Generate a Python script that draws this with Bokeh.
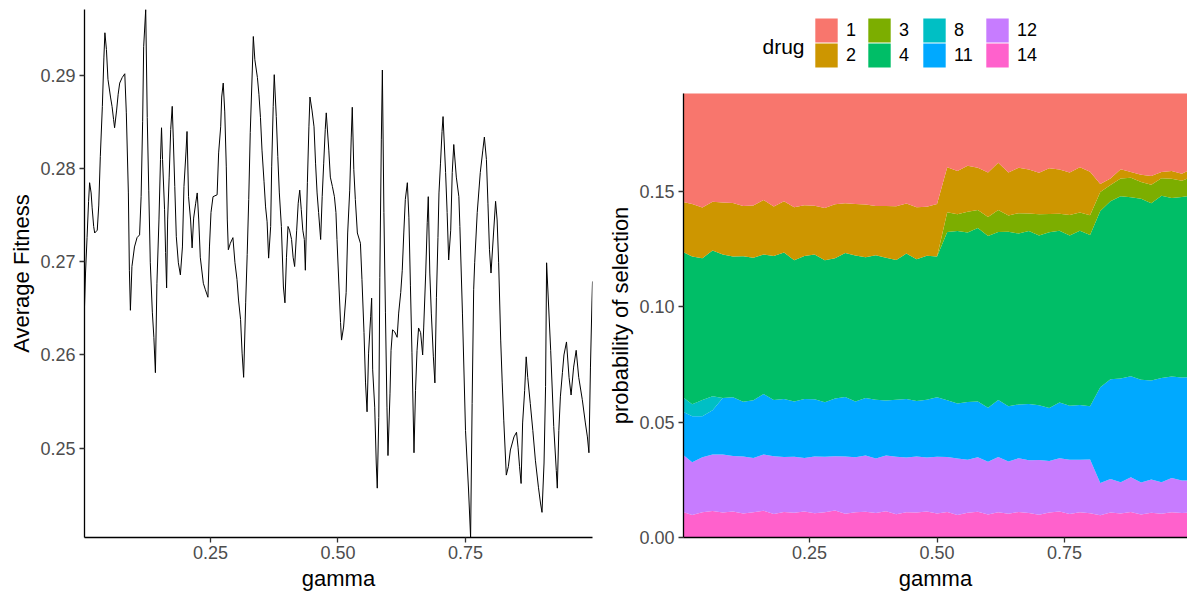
from bokeh.plotting import figure
from bokeh.models import (Range1d, FixedTicker, NumeralTickFormatter, ColumnDataSource,
                          Legend, LegendItem, Label)
from bokeh.embed import file_html
from bokeh.resources import INLINE

FONT = "Liberation Sans"

# ---------------- left panel: average fitness vs gamma ----------------
gamma_fit = [
    0.003,0.005,0.008,0.011,0.013,0.016,0.018,0.021,0.023,0.028,
    0.031,0.034,0.038,0.041,0.043,0.046,0.049,0.054,0.057,0.060,
    0.062,0.066,0.069,0.072,0.077,0.082,0.085,0.089,0.091,0.093,
    0.096,0.101,0.106,0.111,0.114,0.117,0.119,0.123,0.126,0.129,
    0.132,0.136,0.139,0.142,0.145,0.149,0.152,0.154,0.156,0.160,
    0.162,0.164,0.166,0.169,0.172,0.175,0.177,0.180,0.183,0.187,
    0.191,0.195,0.198,0.202,0.204,0.207,0.211,0.214,0.217,0.221,
    0.224,0.227,0.230,0.236,0.240,0.245,0.248,0.251,0.255,0.263,
    0.266,0.270,0.272,0.275,0.278,0.281,0.283,0.285,0.289,0.294,
    0.298,0.302,0.305,0.309,0.312,0.315,0.319,0.322,0.325,0.328,
    0.332,0.334,0.337,0.342,0.345,0.348,0.351,0.355,0.358,0.361,
    0.364,0.368,0.370,0.373,0.375,0.379,0.382,0.385,0.389,0.393,
    0.396,0.399,0.402,0.405,0.409,0.412,0.415,0.419,0.422,0.425,
    0.428,0.431,0.434,0.436,0.440,0.443,0.445,0.449,0.453,0.456,
    0.459,0.462,0.466,0.469,0.472,0.475,0.477,0.482,0.485,0.489,
    0.493,0.496,0.498,0.502,0.505,0.507,0.511,0.516,0.519,0.523,
    0.526,0.528,0.531,0.534,0.538,0.544,0.547,0.551,0.554,0.557,
    0.560,0.564,0.566,0.568,0.572,0.575,0.577,0.580,0.582,0.585,
    0.587,0.590,0.593,0.596,0.598,0.602,0.604,0.607,0.611,0.616,
    0.619,0.623,0.626,0.629,0.632,0.636,0.639,0.642,0.645,0.649,
    0.652,0.655,0.658,0.662,0.666,0.668,0.672,0.675,0.677,0.680,
    0.683,0.687,0.690,0.693,0.696,0.698,0.701,0.704,0.706,0.711,
    0.714,0.717,0.721,0.724,0.727,0.732,0.737,0.739,0.744,0.750,
    0.756,0.760,0.763,0.766,0.768,0.773,0.779,0.784,0.787,0.791,
    0.794,0.797,0.800,0.805,0.809,0.812,0.815,0.819,0.822,0.825,
    0.830,0.834,0.838,0.845,0.850,0.853,0.856,0.859,0.862,0.866,
    0.869,0.872,0.877,0.882,0.887,0.893,0.897,0.900,0.904,0.907,
    0.909,0.917,0.923,0.928,0.930,0.933,0.936,0.940,0.943,0.948,
    0.953,0.957,0.962,0.967,0.972,0.979,0.985,0.989,0.992,0.995,
    0.998,0.999,
]
fitness = [
    0.2652,0.2688,0.2726,0.2765,0.2785,0.2774,0.2758,0.2738,0.2731,0.2734,
    0.2761,0.2813,0.2867,0.2919,0.2946,0.2928,0.2896,0.2877,0.2867,0.2853,
    0.2844,0.2863,0.2880,0.2892,0.2898,0.2902,0.2860,0.2774,0.2691,0.2648,
    0.2695,0.2716,0.2726,0.2729,0.2770,0.2851,0.2931,0.2971,0.2855,0.2777,
    0.2699,0.2646,0.2619,0.2581,0.2677,0.2745,0.2810,0.2844,0.2810,0.2756,
    0.2710,0.2672,0.2745,0.2791,0.2842,0.2867,0.2834,0.2781,0.2727,0.2699,
    0.2686,0.2716,0.2781,0.2818,0.2840,0.2770,0.2745,0.2715,0.2747,0.2763,
    0.2774,0.2745,0.2705,0.2677,0.2670,0.2662,0.2716,0.2753,0.2770,0.2772,
    0.2817,0.2845,0.2877,0.2892,0.2861,0.2802,0.2745,0.2713,0.2720,0.2726,
    0.2699,0.2681,0.2659,0.2638,0.2602,0.2576,0.2656,0.2708,0.2767,0.2839,
    0.2906,0.2942,0.2917,0.2898,0.2880,0.2855,0.2820,0.2786,0.2759,0.2743,
    0.2704,0.2738,0.2802,0.2867,0.2901,0.2856,0.2813,0.2774,0.2738,0.2673,
    0.2656,0.2705,0.2738,0.2734,0.2724,0.2705,0.2695,0.2734,0.2763,0.2777,
    0.2756,0.2734,0.2724,0.2691,0.2785,0.2845,0.2877,0.2863,0.2845,0.2806,
    0.2774,0.2753,0.2724,0.2770,0.2806,0.2842,0.2860,0.2820,0.2791,0.2781,
    0.2770,0.2753,0.2724,0.2673,0.2635,0.2616,0.2630,0.2667,0.2731,0.2777,
    0.2834,0.2866,0.2799,0.2767,0.2731,0.2720,0.2681,0.2624,0.2570,0.2539,
    0.2602,0.2641,0.2661,0.2584,0.2544,0.2484,0.2457,0.2533,0.2683,0.2831,
    0.2906,0.2753,0.2646,0.2544,0.2492,0.2559,0.2605,0.2627,0.2625,0.2619,
    0.2645,0.2667,0.2691,0.2731,0.2767,0.2785,0.2748,0.2675,0.2603,0.2495,
    0.2562,0.2605,0.2629,0.2624,0.2600,0.2629,0.2688,0.2742,0.2770,0.2688,
    0.2645,0.2598,0.2570,0.2662,0.2726,0.2774,0.2806,0.2840,0.2856,0.2796,
    0.2753,0.2702,0.2734,0.2796,0.2826,0.2791,0.2770,0.2738,0.2645,0.2519,
    0.2455,0.2404,0.2548,0.2670,0.2699,0.2753,0.2796,0.2820,0.2834,0.2810,
    0.2763,0.2713,0.2688,0.2731,0.2765,0.2745,0.2699,0.2616,0.2570,0.2530,
    0.2471,0.2480,0.2498,0.2512,0.2517,0.2501,0.2480,0.2462,0.2527,0.2562,
    0.2598,0.2576,0.2548,0.2519,0.2487,0.2458,0.2441,0.2431,0.2484,0.2566,
    0.2699,0.2605,0.2523,0.2476,0.2457,0.2519,0.2555,0.2581,0.2600,0.2614,
    0.2576,0.2557,0.2587,0.2605,0.2576,0.2552,0.2527,0.2512,0.2495,0.2587,
    0.2659,0.2679,
]
fit_ticks = [0.25, 0.26, 0.27, 0.28, 0.29]
gamma_ticks = [0.25, 0.50, 0.75]

# ---------------- right panel: probability of selection by drug ----------------
gamma_sel = [0.00,0.02,0.04,0.06,0.08,0.10,0.12,0.14,0.16,0.18,
             0.20,0.22,0.24,0.26,0.28,0.30,0.32,0.34,0.36,0.38,
             0.40,0.42,0.44,0.46,0.48,0.50,0.52,0.54,0.56,0.58,
             0.60,0.62,0.64,0.66,0.68,0.70,0.72,0.74,0.76,0.78,
             0.80,0.82,0.84,0.86,0.88,0.90,0.92,0.94,0.96,0.98,1.00]
drug14 = [0.0112,0.0098,0.0110,0.0115,0.0108,0.0113,0.0104,0.0109,0.0116,0.0102,
          0.0111,0.0107,0.0113,0.0105,0.0110,0.0117,0.0103,0.0109,0.0112,0.0106,
          0.0114,0.0101,0.0110,0.0108,0.0113,0.0104,0.0111,0.0098,0.0107,0.0112,
          0.0100,0.0109,0.0103,0.0111,0.0106,0.0099,0.0108,0.0113,0.0102,0.0110,
          0.0105,0.0096,0.0108,0.0104,0.0111,0.0100,0.0107,0.0103,0.0110,0.0106,0.0108]
drug12 = [0.0250,0.0228,0.0238,0.0245,0.0252,0.0240,0.0247,0.0236,0.0244,0.0250,
          0.0238,0.0243,0.0232,0.0246,0.0240,0.0235,0.0248,0.0239,0.0244,0.0236,
          0.0241,0.0249,0.0237,0.0243,0.0234,0.0246,
          0.0238,0.0245,0.0230,0.0236,0.0228,0.0240,0.0226,0.0233,0.0229,0.0237,
          0.0224,0.0231,0.0235,0.0227,0.0233,
          0.0140,0.0146,0.0135,0.0150,0.0138,0.0144,0.0136,0.0148,0.0141,0.0139]
drug11 = [0.0185,0.0200,0.0178,0.0192,
          0.0245,0.0255,0.0238,0.0250,0.0262,0.0244,0.0252,0.0240,0.0256,0.0248,
          0.0236,0.0251,0.0258,0.0242,0.0249,0.0255,0.0239,0.0247,0.0253,0.0241,
          0.0250,0.0258,
          0.0246,0.0238,0.0250,0.0242,0.0235,0.0247,0.0240,0.0233,0.0244,0.0237,
          0.0229,0.0241,0.0234,0.0238,0.0231,
          0.0415,0.0432,0.0450,0.0438,0.0446,0.0430,0.0452,0.0440,0.0447,0.0449]
drug8 = [0.0065,0.0052,0.0070,0.0060] + [0.0] * 47
drug4 = [0.0628,0.0640,0.0615,0.0632,0.0622,0.0610,0.0630,0.0618,0.0605,0.0625,
         0.0635,0.0612,0.0620,0.0628,0.0616,0.0608,0.0624,0.0633,0.0610,0.0627,
         0.0619,0.0606,0.0631,0.0614,0.0625,0.0610,
         0.0730,0.0748,0.0735,0.0752,0.0744,0.0729,0.0757,0.0741,0.0750,0.0736,
         0.0762,0.0745,0.0738,0.0755,0.0742,
         0.0765,0.0772,0.0790,0.0776,0.0785,0.0768,0.0791,0.0774,0.0782,0.0788]
drug3 = [0.0] * 26 + [0.0085,0.0072,0.0090,0.0078,0.0083,0.0095,0.0070,0.0088,0.0076,0.0092,
                      0.0080,0.0074,0.0089,0.0079,0.0086,
                      0.0082,0.0070,0.0078,0.0085,0.0072,0.0080,0.0076,0.0083,0.0071,0.0079]
drug2 = [0.0215,0.0228,0.0220,0.0212,0.0225,0.0232,0.0218,0.0226,0.0236,0.0214,
         0.0222,0.0230,0.0219,0.0211,0.0227,0.0234,0.0216,0.0223,0.0229,0.0213,
         0.0224,0.0233,0.0217,0.0226,0.0212,0.0228,
         0.0195,0.0188,0.0200,0.0183,0.0192,0.0205,0.0186,0.0197,0.0190,0.0180,
         0.0198,0.0191,0.0184,0.0196,0.0189,
         0.0035,0.0028,0.0040,0.0025,0.0032,0.0038,0.0027,0.0034,0.0030,0.0036]
drug1 = [0.0550,0.0555,0.0548,0.0552,0.0557,0.0549,0.0554,0.0551,0.0556,0.0548,
         0.0553,0.0550,0.0555,0.0552,0.0549,0.0554,0.0557,0.0550,0.0553,0.0548,
         0.0556,0.0551,0.0554,0.0549,0.0552,0.0555,
         0.0395,0.0392,0.0398,0.0390,0.0396,0.0393,0.0399,0.0391,0.0394,0.0397,
         0.0392,0.0395,0.0398,0.0390,0.0394,
         0.0425,0.0422,0.0428,0.0420,0.0426,0.0423,0.0429,0.0421,0.0424,0.0427]
total_prob = 0.1925
prob_ticks = [0.00, 0.05, 0.10, 0.15]
drug_labels = ["1", "2", "3", "4", "8", "11", "12", "14"]
drug_colors = ["#F8766D", "#CD9600", "#7CAE00", "#00BE67", "#00BFC4", "#00A9FF", "#C77CFF", "#FF61CC"]


def style(p, xticks, yticks):
    for ax in (p.xaxis[0], p.yaxis[0]):
        ax.axis_line_color = "black"
        ax.axis_line_width = 1.3
        ax.major_tick_line_color = "#333333"
        ax.major_tick_line_width = 1.3
        ax.major_tick_out = 5
        ax.major_tick_in = 0
        ax.minor_tick_line_color = None
        ax.major_label_text_font = FONT
        ax.major_label_text_font_size = "18px"
        ax.major_label_text_color = "#4D4D4D"
        ax.axis_label_text_font = FONT
        ax.axis_label_text_font_size = "22px"
        ax.axis_label_text_font_style = "normal"
        ax.axis_label_text_color = "black"
        ax.formatter = NumeralTickFormatter(format="0.00")
    p.xaxis[0].ticker = FixedTicker(ticks=xticks)
    p.yaxis[0].ticker = FixedTicker(ticks=yticks)
    p.xaxis[0].major_label_standoff = 3
    p.yaxis[0].major_label_standoff = 4
    p.xaxis[0].axis_label_standoff = 4
    p.yaxis[0].axis_label_standoff = 3
    p.xgrid.visible = False
    p.ygrid.visible = False
    p.outline_line_color = None


# left plot: page box x 0..600, y 0..599
p1 = figure(frame_width=508, frame_height=528,
            min_border_left=84, min_border_right=8, min_border_top=9, min_border_bottom=62,
            x_range=Range1d(min(gamma_fit), max(gamma_fit)),
            y_range=Range1d(min(fitness), max(fitness)),
            x_axis_label="gamma", y_axis_label="Average Fitness",
            output_backend="svg", toolbar_location=None)
p1.line(gamma_fit, fitness, line_color="black", line_width=1)
style(p1, gamma_ticks, fit_ticks)
p1.styles = {"position": "absolute", "left": "0px", "top": "0px"}

# right plot: page box x 600..1187, y 93..599
p2 = figure(frame_width=504, frame_height=444,
            min_border_left=83, min_border_right=0, min_border_top=0, min_border_bottom=62,
            x_range=Range1d(0.003, 0.991), y_range=Range1d(0, total_prob),
            x_axis_label="gamma", y_axis_label="probability of selection",
            output_backend="svg", toolbar_location=None)
src = ColumnDataSource(dict(gamma=gamma_sel, d1=drug1, d2=drug2, d3=drug3, d4=drug4,
                            d8=drug8, d11=drug11, d12=drug12, d14=drug14))
order = ["14", "12", "11", "8", "4", "3", "2", "1"]  # bottom to top
col_of = dict(zip(drug_labels, drug_colors))
p2.varea_stack(stackers=["d" + k for k in order], x="gamma",
               color=[col_of[k] for k in order], source=src)
style(p2, gamma_ticks, prob_ticks)
p2.styles = {"position": "absolute", "left": "600px", "top": "93px"}

# legend strip above the right plot: page box x 600..1187, y 0..93
pl = figure(frame_width=587, frame_height=93, min_border=0,
            min_border_left=0, min_border_right=0, min_border_top=0, min_border_bottom=0,
            x_range=Range1d(0, 1), y_range=Range1d(0, 1),
            x_axis_type=None, y_axis_type=None,
            output_backend="svg", toolbar_location=None)
pl.outline_line_color = None
# zero-area proxy glyphs, only used to draw the legend keys
proxy = {k: pl.varea(x=[0, 0], y1=[0, 0], y2=[0, 0], fill_color=col_of[k])
         for k in drug_labels}
legend_cols = [("1", "2"), ("3", "4"), ("8", "11"), ("12", "14")]
legend_x = [212, 265, 320, 383]
legend_y = [48, 23]  # top row, bottom row
for labels, vx in zip(legend_cols, legend_x):
    for lab, vy in zip(labels, legend_y):
        lg = Legend(items=[LegendItem(label=lab, renderers=[proxy[lab]], index=0)],
                    location=(vx, vy), orientation="vertical",
                    glyph_width=28, glyph_height=30, label_standoff=6, spacing=0,
                    padding=0, margin=0, border_line_color=None, background_fill_alpha=0,
                    label_text_font=FONT, label_text_font_size="18px",
                    label_text_color="black", label_height=24)
        pl.add_layout(lg)
pl.add_layout(Label(x=162, y=47, x_units="screen", y_units="screen", text="drug",
                    text_font=FONT, text_font_size="21px", text_baseline="middle",
                    text_color="black"))
pl.styles = {"position": "absolute", "left": "600px", "top": "0px"}

open("out.html", "w").write(file_html([p1, p2, pl], INLINE))
